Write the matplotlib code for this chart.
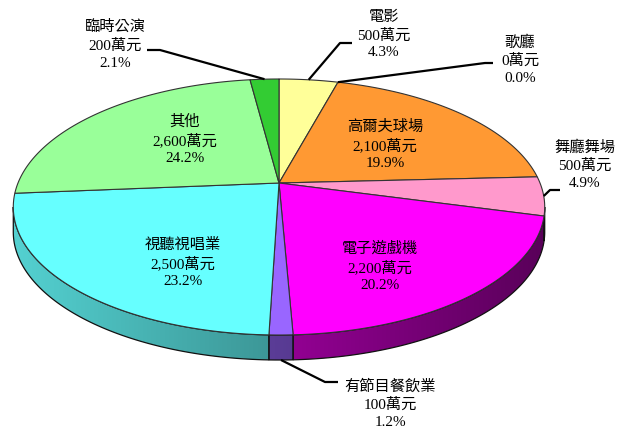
import numpy as np
import matplotlib
matplotlib.use("Agg")
import matplotlib.pyplot as plt
from matplotlib.patches import Polygon
from matplotlib.colors import to_rgb

plt.rcParams['font.family'] = ['Liberation Serif', 'Noto Sans CJK TC']

# data
names = ["電影", "歌廳", "高爾夫球場", "舞廳舞場", "電子遊戲機",
         "有節目餐飲業", "視聽視唱業", "其他", "臨時公演"]
values = [500, 0, 2100, 500, 2200, 100, 2500, 2600, 200]   # 萬元
pcts = [4.3, 0.0, 19.9, 4.9, 20.2, 1.2, 23.2, 24.2, 2.1]
colors = ["#FFFF99", "#FFFFFF", "#FF9933", "#FF99CC", "#FF00FF",
          "#9966FF", "#66FFFF", "#99FF99", "#33CC33"]

# pie geometry (pixels, perspective view)
CX, CY = 279.0, 183.0
A = 261.0
G = 0.1875
Q = -89.19
DEPTH = 25.0


def proj(theta, r=1.0):
    t = np.radians(theta)
    X = r * np.sin(t)
    Y = r * np.cos(t)
    den = 1 + G * Y
    return CX + A * X / den, (CY + Q * Y) / den


fig = plt.figure(figsize=(6.27, 4.34), dpi=100)
ax = fig.add_axes([0, 0, 1, 1])
ax.set_xlim(0, 627)
ax.set_ylim(434, 0)
ax.axis("off")

total = sum(pcts)
bounds = np.cumsum([0] + pcts) / total * 360.0

# front side walls
front_lo = np.degrees(np.arccos(-G))
front_hi = 360 - front_lo
xl, xr = CX - A / np.sqrt(1 - G ** 2), CX + A / np.sqrt(1 - G ** 2)
for i in range(len(pcts)):
    lo = max(bounds[i], front_lo)
    hi = min(bounds[i + 1], front_hi)
    if hi <= lo:
        continue
    th = np.linspace(lo, hi, 80)
    u, v = proj(th)
    pts = np.column_stack([np.r_[u, u[::-1]], np.r_[v, v[::-1] + DEPTH]])
    poly = Polygon(pts, closed=True, facecolor="none", edgecolor="#111111",
                   lw=0.9, zorder=3)
    ax.add_patch(poly)
    base = np.array(to_rgb(colors[i]))
    xs = np.linspace(xl, xr, 300)
    f = 0.82 - (xs - xl) / (xr - xl) * 0.47
    img = (f[:, None] * base[None, :])[None, :, :]
    im = ax.imshow(img, extent=(xl, xr, v.max() + DEPTH + 2, v.min() - 2),
                   aspect="auto", zorder=2, interpolation="bilinear")
    im.set_clip_path(poly)

# top face
for i in range(len(pcts)):
    if pcts[i] <= 0:
        continue
    th = np.linspace(bounds[i], bounds[i + 1], 120)
    u, v = proj(th)
    pts = np.column_stack([np.r_[CX, u], np.r_[CY, v]])
    ax.add_patch(Polygon(pts, closed=True, facecolor=colors[i],
                         edgecolor="#333333", lw=0.8, zorder=4))


def label_text(i):
    return "{}\n{:,}萬元\n{:.1f}%".format(names[i], values[i], pcts[i])


# label layout: text centre, and leader (start, elbow) for outside labels
inside = {2: (385, 145), 4: (380, 267), 6: (183, 263), 7: (185, 140)}
outside = {
    8: ((115, 45), (147, 50), (160, 50), False),
    0: ((384, 35), (352, 43), (340, 43), False),
    1: ((520, 60), (493, 63), (485, 63), False),
    3: ((585, 165), (560, 190), (550, 190), False),
    5: ((390, 404), (338, 382), (325, 382), True),
}

for i, (x, y) in inside.items():
    ax.text(x, y, label_text(i), ha="center", va="center", fontsize=11,
            linespacing=1.4, zorder=6)

for i, (pos, start, elbow, on_side) in outside.items():
    ax.text(pos[0], pos[1], label_text(i), ha="center", va="center",
            fontsize=11, linespacing=1.4, zorder=6)
    mid = (bounds[i] + bounds[i + 1]) / 2
    eu, ev = proj(mid)
    if on_side:
        ev = ev + DEPTH
    ax.plot([start[0], elbow[0], eu], [start[1], elbow[1], ev],
            color="black", lw=1.6, zorder=7, solid_capstyle="butt")

fig.savefig("out.png", dpi=100)
